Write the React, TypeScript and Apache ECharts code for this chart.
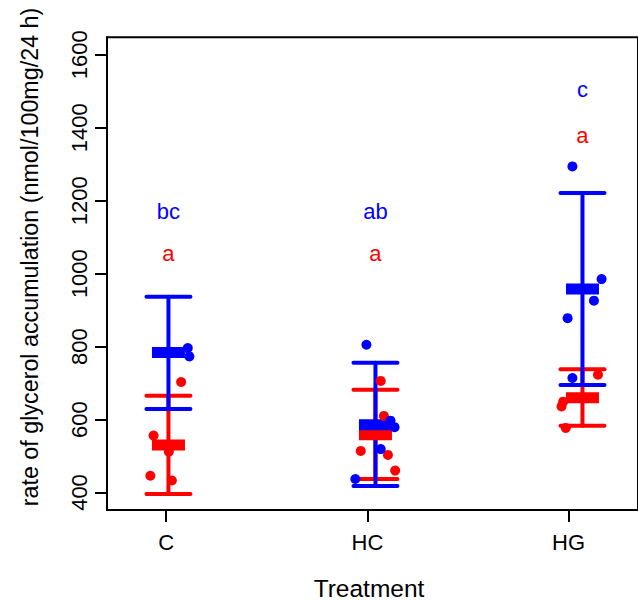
import React, { useEffect, useRef } from "react";
import * as echarts from "echarts";

const categories = ["C", "HC", "HG"];
const tickPositions = [1, 2, 3];
const yTicks = [400, 600, 800, 1000, 1200, 1400, 1600];
const barPositions = [1.011, 2.04, 3.069];

const blueMean = [784, 586, 958];
const blueUpper = [937, 756, 1221];
const blueLower = [629, 418, 695];
const redMean = [530, 558, 660];
const redUpper = [665, 682, 738];
const redLower = [396, 437, 583];

const blueLetters = ["bc", "ab", "c"];
const blueLetterY = [1170, 1170, 1505];
const redLetters = ["a", "a", "a"];
const redLetterY = [1054, 1054, 1379];

const bluePointsX = [1.107, 1.115, 1.995, 2.115, 2.135, 2.066, 1.94, 3.019, 3.164, 3.126, 2.995, 3.019];
const bluePointsY = [796, 773, 805, 597, 579, 519, 437, 1294, 985, 926, 878, 714];
const redPointsX = [1.074, 0.937, 1.013, 0.921, 1.028, 2.066, 2.082, 1.967, 2.102, 2.138, 3.146, 2.973, 2.965, 2.986];
const redPointsY = [703, 556, 512, 446, 433, 706, 610, 514, 503, 460, 723, 649, 636, 577];

const BLUE = "#0000FF";
const RED = "#FF0000";
const FONT = "Liberation Sans, Arial, sans-serif";

function errorBarSeries(color: string, lower: number[], upper: number[]) {
  return {
    type: "custom",
    data: barPositions.map((x, i) => [x, lower[i], upper[i]]),
    encode: { x: 0, y: [1, 2] },
    renderItem: (params: any, api: any) => {
      const x = api.value(0);
      const lo = api.value(1);
      const hi = api.value(2);
      const pTop = api.coord([x, hi]);
      const pBot = api.coord([x, lo]);
      const hw = 22;
      const style = { stroke: color, lineWidth: 4, lineCap: "round" };
      return {
        type: "group",
        children: [
          { type: "line", shape: { x1: pTop[0], y1: pTop[1], x2: pBot[0], y2: pBot[1] }, style },
          { type: "line", shape: { x1: pTop[0] - hw, y1: pTop[1], x2: pTop[0] + hw, y2: pTop[1] }, style },
          { type: "line", shape: { x1: pBot[0] - hw, y1: pBot[1], x2: pBot[0] + hw, y2: pBot[1] }, style },
        ],
      };
    },
    silent: true,
  };
}

function meanSeries(color: string, means: number[]) {
  return {
    type: "scatter",
    data: barPositions.map((x, i) => [x, means[i]]),
    symbol: "rect",
    symbolSize: [33, 11],
    itemStyle: { color, opacity: 1 },
    silent: true,
  };
}

function pointSeries(color: string, xs: number[], ys: number[]) {
  return {
    type: "scatter",
    data: xs.map((x, i) => [x, ys[i]]),
    symbol: "circle",
    symbolSize: 10,
    itemStyle: { color, opacity: 1 },
    silent: true,
  };
}

function letterSeries(color: string, letters: string[], ys: number[]) {
  return {
    type: "scatter",
    data: barPositions.map((x, i) => [x, ys[i]]),
    symbolSize: 0,
    itemStyle: { color, opacity: 1 },
    label: {
      show: true,
      position: "inside",
      formatter: (p: any) => letters[p.dataIndex],
      color,
      opacity: 1,
      fontSize: 22,
      fontFamily: FONT,
    },
    silent: true,
  };
}

export default function App() {
  const ref = useRef<HTMLDivElement>(null);
  useEffect(() => {
    document.body.style.margin = "0";
    const chart = echarts.init(ref.current!, null, { renderer: "svg" });
    chart.setOption({
      animation: false,
      backgroundColor: "#ffffff",
      grid: {
        left: 107,
        top: 37.3,
        bottom: 90,
        right: -4,
        show: true,
        borderColor: "#000",
        borderWidth: 2,
        backgroundColor: "transparent",
      },
      xAxis: {
        type: "value",
        min: 0.7055,
        max: 3.345,
        splitLine: { show: false },
        axisLine: { show: true, lineStyle: { color: "#000", width: 2 } },
        axisTick: {
          show: true,
          customValues: tickPositions,
          length: 12,
          lineStyle: { color: "#000", width: 2 },
        },
        axisLabel: {
          show: true,
          customValues: tickPositions,
          formatter: (v: number) => categories[Math.round(v) - 1] ?? "",
          fontSize: 22,
          fontFamily: FONT,
          color: "#000",
          margin: 21,
        },
      },
      yAxis: {
        type: "value",
        min: 352,
        max: 1648,
        splitLine: { show: false },
        axisLine: { show: true, lineStyle: { color: "#000", width: 2 } },
        axisTick: {
          show: true,
          customValues: yTicks,
          length: 12,
          lineStyle: { color: "#000", width: 2 },
        },
        axisLabel: {
          show: true,
          customValues: yTicks,
          formatter: (v: number) => String(v),
          rotate: 90,
          fontSize: 22,
          fontFamily: FONT,
          color: "#000",
          margin: 17,
        },
      },
      graphic: [
        {
          type: "text",
          x: 369,
          y: 588,
          style: {
            text: "Treatment",
            fontSize: 24.5,
            fontFamily: FONT,
            fill: "#000",
            textAlign: "center",
            textVerticalAlign: "middle",
            align: "center",
            verticalAlign: "middle",
          },
        },
        {
          type: "text",
          x: 30,
          y: 257,
          rotation: Math.PI / 2,
          style: {
            text: "rate of glycerol accumulation (nmol/100mg/24 h)",
            fontSize: 23.3,
            fontFamily: FONT,
            fill: "#000",
            textAlign: "center",
            textVerticalAlign: "middle",
            align: "center",
            verticalAlign: "middle",
          },
        },
      ],
      series: [
        errorBarSeries(RED, redLower, redUpper),
        meanSeries(RED, redMean),
        errorBarSeries(BLUE, blueLower, blueUpper),
        meanSeries(BLUE, blueMean),
        pointSeries(RED, redPointsX, redPointsY),
        pointSeries(BLUE, bluePointsX, bluePointsY),
        letterSeries(BLUE, blueLetters, blueLetterY),
        letterSeries(RED, redLetters, redLetterY),
      ],
    });
    return () => chart.dispose();
  }, []);
  return (
    <div
      ref={ref}
      style={{ position: "absolute", left: 0, top: 0, width: 638, height: 600 }}
    />
  );
}
